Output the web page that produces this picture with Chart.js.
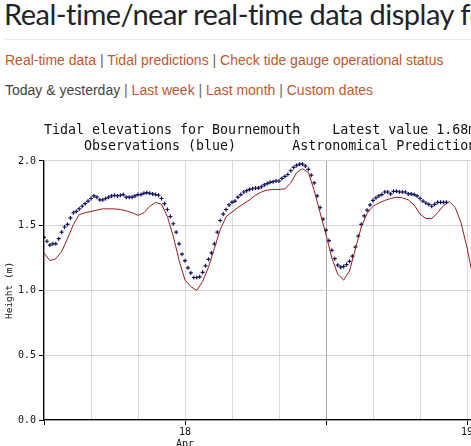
<!DOCTYPE html>
<html>
<head>
<meta charset="utf-8">
<title>Bournemouth tide gauge</title>
<script src="https://cdn.jsdelivr.net/npm/chart.js@4/dist/chart.umd.min.js"></script>
<style>
  body { margin: 0; overflow: hidden; background: #fff; width: 471px; height: 446px; position: relative; }
  h1 { position: absolute; left: 4px; top: -4px; margin: 0; font: 400 29px Lato, sans-serif; letter-spacing: -0.5px; color: #1f2428; white-space: nowrap; }
  hr { position: absolute; left: 5px; top: 39px; width: 600px; margin: 0; border: 0; border-top: 1px solid #e6e6e6; }
  .nav { position: absolute; left: 5px; margin: 0; font: 14px "Liberation Sans", Arial, sans-serif; color: #666; white-space: nowrap; }
  .nav a { color: #c0582e; text-decoration: none; }
  .nav .here { color: #444; }
  #nav1 { top: 52px; }
  #nav2 { top: 82px; }
  #wrap { position: absolute; left: 0; top: 123px; }
</style>
</head>
<body>
<h1>Real-time/near real-time data display for Bournemouth</h1>
<hr>
<p class="nav" id="nav1"><a href="#">Real-time data</a> | <a href="#">Tidal predictions</a> | <a href="#">Check tide gauge operational status</a></p>
<p class="nav" id="nav2"><span class="here">Today &amp; yesterday</span> | <a href="#">Last week</a> | <a href="#">Last month</a> | <a href="#">Custom dates</a></p>
<div id="wrap"><canvas id="tideChart" width="618" height="337"></canvas></div>
<script>
// Observed heights (m), every 15 minutes from 17 Apr 12:00
const obsHeights = [
  1.41, 1.38, 1.35, 1.36, 1.36, 1.40, 1.45, 1.49, 1.51, 1.56,
  1.60, 1.61, 1.63, 1.65, 1.67, 1.69, 1.71, 1.73, 1.72, 1.70,
  1.70, 1.71, 1.72, 1.73, 1.735, 1.73, 1.735, 1.74, 1.72, 1.72,
  1.72, 1.73, 1.74, 1.74, 1.75, 1.755, 1.75, 1.745, 1.74, 1.735,
  1.71, 1.67, 1.625, 1.57, 1.515, 1.45, 1.36, 1.28, 1.23, 1.175,
  1.135, 1.10, 1.10, 1.105, 1.14, 1.19, 1.24, 1.29, 1.36, 1.45,
  1.54, 1.59, 1.625, 1.66, 1.68, 1.69, 1.72, 1.74, 1.76, 1.77,
  1.78, 1.785, 1.79, 1.79, 1.80, 1.815, 1.825, 1.835, 1.84, 1.845,
  1.845, 1.865, 1.88, 1.895, 1.925, 1.95, 1.965, 1.975, 1.975, 1.96,
  1.935, 1.89, 1.83, 1.73, 1.64, 1.55, 1.465, 1.385, 1.31, 1.245,
  1.195, 1.18, 1.185, 1.20, 1.225, 1.265, 1.335, 1.42, 1.51, 1.575,
  1.62, 1.66, 1.695, 1.715, 1.73, 1.74, 1.76, 1.76, 1.745, 1.765,
  1.765, 1.76, 1.76, 1.76, 1.745, 1.745, 1.74, 1.73, 1.71, 1.69,
  1.675, 1.665, 1.65, 1.665, 1.68, 1.68, 1.68, 1.68
];

// Astronomical predictions (m), every 30 minutes from 17 Apr 12:00
const predHeights = [
  1.29, 1.23, 1.245, 1.30, 1.40, 1.51, 1.585, 1.60, 1.61, 1.62,
  1.63, 1.63, 1.63, 1.625, 1.615, 1.60, 1.58, 1.60, 1.65, 1.68,
  1.665, 1.57, 1.42, 1.23, 1.08, 1.03, 1.00, 1.07, 1.18, 1.325,
  1.47, 1.57, 1.605, 1.64, 1.67, 1.70, 1.735, 1.76, 1.775, 1.78,
  1.78, 1.785, 1.83, 1.91, 1.94, 1.91, 1.77, 1.60, 1.43, 1.25,
  1.125, 1.08, 1.15, 1.32, 1.49, 1.595, 1.65, 1.675, 1.695, 1.71,
  1.72, 1.715, 1.70, 1.66, 1.59, 1.555, 1.555, 1.60, 1.655, 1.685,
  1.64, 1.52, 1.33, 1.11
];

// time axis in hours counted from 17 Apr 00:00
const startHour = 12;
const obsStep = 0.25;
const predStep = 0.5;
const dayLabels = { 24: ['18', 'Apr'], 48: '19' };
const yTicks = [0, 0.5, 1.0, 1.5, 2.0];

const monoFont = 'DejaVu Sans Mono';

const obsPoints = obsHeights.map((h, i) => ({ x: startHour + i * obsStep, y: h }));
const predPoints = predHeights.map((h, i) => ({ x: startHour + i * predStep, y: h }));

const ctx = document.getElementById('tideChart').getContext('2d');
const tideChart = new Chart(ctx, {
    type: 'scatter',
    data: {
        datasets: [
            {
                label: 'Astronomical Predictions',
                data: predPoints,
                showLine: true,
                borderColor: '#9e1b1b',
                borderWidth: 1,
                pointRadius: 0,
                tension: 0
            },
            {
                label: 'Observations',
                data: obsPoints,
                showLine: false,
                pointStyle: 'cross',
                pointRadius: 2,
                borderColor: '#12125e',
                borderWidth: 1.2
            }
        ]
    },
    options: {
        responsive: false,
        animation: false,
        layout: { padding: { left: 0, right: 10, top: 0, bottom: 0 } },
        plugins: {
            legend: { display: false },
            tooltip: { enabled: false },
            title: {
                display: true,
                fullSize: false,
                align: 'start',
                color: '#111',
                font: { family: monoFont, size: 13.3, weight: 'normal', lineHeight: 1.2 },
                padding: { top: 0, bottom: 6 },
                text: [
                    'Tidal elevations for Bournemouth    Latest value 1.68m',
                    '     Observations (blue)       Astronomical Predictions (red)'
                ]
            }
        },
        scales: {
            x: {
                type: 'linear',
                min: 12,
                max: 60,
                afterFit: (scale) => { scale.height = 40; },
                afterBuildTicks: (scale) => {
                    const t = [];
                    for (let v = 12; v <= 60; v += 4) t.push({ value: v });
                    scale.ticks = t;
                },
                ticks: {
                    autoSkip: false,
                    maxRotation: 0,
                    padding: 1,
                    color: '#111',
                    font: { family: monoFont, size: 10, lineHeight: 1.2 },
                    callback: (v) => dayLabels[v] || ''
                },
                grid: {
                    tickLength: 5,
                    color: (c) => (c.tick && c.tick.value === 36 ? '#a9a9a9' : '#dadada'),
                    tickColor: (c) => (c.tick && c.tick.value % 12 === 0 ? '#000' : 'rgba(0,0,0,0)')
                },
                border: { color: '#000', width: 1.3 }
            },
            y: {
                min: 0,
                max: 2,
                afterFit: (scale) => { scale.width = 44; },
                afterBuildTicks: (scale) => { scale.ticks = yTicks.map(v => ({ value: v })); },
                ticks: {
                    padding: 3,
                    color: '#111',
                    font: { family: monoFont, size: 10 },
                    callback: (v) => v.toFixed(1)
                },
                grid: {
                    tickLength: 5,
                    color: '#d6d6d6',
                    tickColor: '#000'
                },
                border: { color: '#000', width: 1.3 },
                title: {
                    display: true,
                    text: 'Height (m)',
                    color: '#111',
                    font: { family: monoFont, size: 9.5 },
                    padding: { top: 4, bottom: 0 }
                }
            }
        }
    }
});
</script>
</body>
</html>
